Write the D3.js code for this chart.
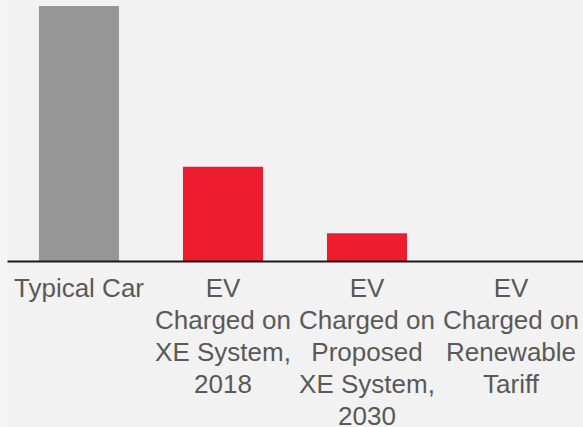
<!DOCTYPE html>
<html>
<head>
<meta charset="utf-8">
<script src="https://cdn.jsdelivr.net/npm/d3@7"></script>
<style>
  html, body { margin: 0; padding: 0; background: #f2f2f2; }
  svg { display: block; }
  .cat-label { font-family: "Liberation Sans", Arial, sans-serif; font-size: 26px; fill: #595959; }
</style>
</head>
<body>
<div id="chart"></div>
<script>
const width = 583;
const height = 427;

// data
const categories = ["typical", "ev2018", "ev2030", "evRenewable"];
const categoryLines = [
  ["Typical Car"],
  ["EV", "Charged on", "XE System,", "2018"],
  ["EV", "Charged on", "Proposed", "XE System,", "2030"],
  ["EV", "Charged on", "Renewable", "Tariff"],
];
const values = [4.6, 1.7, 0.5, 0];
const barColors = ["#969696", "#ed1c2e", "#ed1c2e", "#ed1c2e"];

const baseline = 261;
const plotLeft = 7;

const svg = d3.select("#chart")
  .append("svg")
  .attr("width", width)
  .attr("height", height);

svg.append("rect")
  .attr("width", width)
  .attr("height", height)
  .attr("fill", "#f2f2f2");

svg.append("rect")
  .attr("width", plotLeft)
  .attr("height", height)
  .attr("fill", "#f5f5f5");

const x = d3.scaleBand()
  .domain(categories)
  .range([plotLeft, width])
  .paddingInner(0.444)
  .paddingOuter(0.222);

const y = d3.scaleLinear()
  .domain([0, d3.max(values)])
  .range([baseline, 6]);

svg.selectAll(".bar")
  .data(values)
  .join("rect")
  .attr("class", "bar")
  .attr("x", (d, i) => x(categories[i]))
  .attr("y", d => y(d))
  .attr("width", x.bandwidth())
  .attr("height", d => baseline - y(d))
  .attr("fill", (d, i) => barColors[i]);

const axis = svg.append("g")
  .attr("transform", `translate(0,${baseline})`)
  .call(d3.axisBottom(x).tickSize(0).tickSizeOuter(0).tickFormat(""));

axis.select(".domain")
  .attr("stroke", "#1a1a1a")
  .attr("stroke-width", 2);

axis.selectAll(".tick text").remove();

const labels = svg.selectAll(".cat-label")
  .data(categories)
  .join("text")
  .attr("class", "cat-label")
  .attr("text-anchor", "middle")
  .attr("x", d => x(d) + x.bandwidth() / 2)
  .attr("y", 297);

labels.each(function(d, i) {
  d3.select(this).selectAll("tspan")
    .data(categoryLines[i])
    .join("tspan")
    .attr("x", x(d) + x.bandwidth() / 2)
    .attr("dy", (t, j) => j === 0 ? 0 : 32)
    .text(t => t);
});
</script>
</body>
</html>
